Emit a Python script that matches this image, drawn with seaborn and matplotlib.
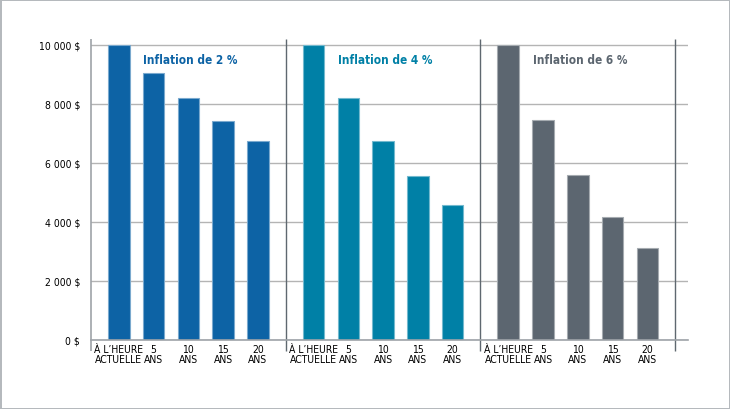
import pandas as pd
import seaborn as sns
import matplotlib.pyplot as plt

periodes = ["À L’HEURE\nACTUELLE", "5\nANS", "10\nANS", "15\nANS", "20\nANS"]
inflations = ["Inflation de 2 %", "Inflation de 4 %", "Inflation de 6 %"]
valeurs_2 = [10000, 9057, 8203, 7430, 6730]
valeurs_4 = [10000, 8219, 6756, 5553, 4564]
valeurs_6 = [10000, 7473, 5584, 4173, 3118]
couleurs = ["#0d63a5", "#0080a6", "#5c6670"]
ticks_y = [0, 2000, 4000, 6000, 8000, 10000]

# one row per bar; groups are spaced 5.6 bar-slots apart
ecart = 5.6
lignes = []
for g, (nom, vals) in enumerate(zip(inflations, [valeurs_2, valeurs_4, valeurs_6])):
    for i, (per, v) in enumerate(zip(periodes, vals)):
        lignes.append({"groupe": nom, "periode": per, "pos": g * ecart + i, "valeur": v})
df = pd.DataFrame(lignes)

sns.set_style("white")
plt.rcParams['font.family'] = ['DejaVu Sans']
plt.rcParams['font.stretch'] = 'condensed'

fig = plt.figure(figsize=(7.3, 4.1), dpi=100, edgecolor="#b5b9bd", linewidth=2)
ax = fig.add_axes([0.1247, 0.1683, 0.8178, 0.734])

sns.barplot(data=df, x="pos", y="valeur", hue="groupe", palette=couleurs,
            native_scale=True, width=0.62, dodge=False, legend=False,
            saturation=1, linewidth=0.8, ax=ax)
for p in ax.patches:
    r, g_, b, a = p.get_facecolor()
    p.set_edgecolor((0.55 * r + 0.45, 0.55 * g_ + 0.45, 0.55 * b + 0.45))

ax.set_xlim(-0.8, 3 * ecart - 0.43)
ax.set_ylim(0, 10200)
ax.set_xticks(df["pos"])
ax.set_xticklabels(df["periode"], fontsize=7.5, linespacing=1.0)
ax.set_yticks(ticks_y)
ax.set_yticklabels([f"{v:,}".replace(",", " ") + " $" for v in ticks_y], fontsize=7.5)
ax.tick_params(axis="x", length=0, pad=3, colors="black")
ax.tick_params(axis="y", length=5, width=1, color="#9ea3a8", pad=3, labelcolor="black")
ax.set_xlabel("")
ax.set_ylabel("")

ax.yaxis.grid(True, color="#b4b4b4", linewidth=1)
ax.set_axisbelow(True)
for s in ["top", "right", "left"]:
    ax.spines[s].set_visible(False)
ax.spines["bottom"].set_color("#9ea3a8")
ax.spines["bottom"].set_linewidth(1.2)

# left axis line and group separators, running a bit under the baseline
ax.vlines(-0.8, -380, 10200, color="#9ea3a8", linewidth=1.2, clip_on=False)
for g in range(3):
    ax.vlines(g * ecart + 4.8, -380, 10200, color="#5f6870", linewidth=1, clip_on=False)

for g, (nom, c) in enumerate(zip(inflations, couleurs)):
    ax.text(g * ecart + 0.7, 9500, nom, color=c, fontsize=8.5, fontweight="bold",
            ha="left", va="center")

fig.savefig("out.png", dpi=100)
